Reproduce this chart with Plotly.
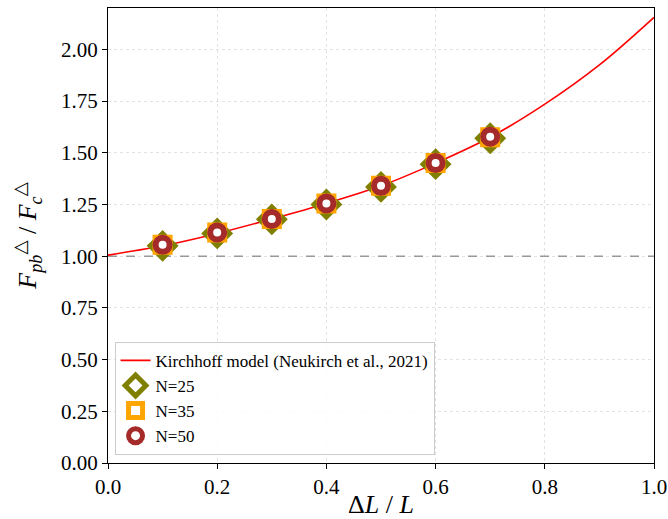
import plotly.graph_objects as go

# Kirchhoff model curve
model_x = [0.0, 0.1, 0.2, 0.3, 0.4, 0.5, 0.6, 0.7, 0.8, 0.9, 1.0]
model_y = [1.005, 1.05, 1.11, 1.18, 1.255, 1.34, 1.45, 1.575, 1.735, 1.925, 2.155]

# simulation points
strain = [0.1, 0.2, 0.3, 0.4, 0.5, 0.6, 0.7]
n25 = [1.050, 1.110, 1.178, 1.250, 1.335, 1.445, 1.570]
n35 = [1.055, 1.115, 1.180, 1.255, 1.340, 1.450, 1.575]
n50 = [1.055, 1.115, 1.180, 1.255, 1.340, 1.450, 1.578]

serif = "Liberation Serif, DejaVu Serif, serif"

fig = go.Figure()

# reference line at 1
fig.add_trace(go.Scatter(x=[0, 1], y=[1, 1], mode='lines',
                         line=dict(color='#999999', width=1.5, dash='dash'),
                         showlegend=False, hoverinfo='skip'))

fig.add_trace(go.Scatter(x=model_x, y=model_y, mode='lines', line_shape='spline',
                         line=dict(color='red', width=1.6),
                         name='Kirchhoff model (Neukirch et al., 2021)'))

fig.add_trace(go.Scatter(x=strain, y=n25, mode='markers', name='N=25',
                         marker=dict(symbol='diamond', size=18, color='white',
                                     line=dict(color='#808000', width=6))))
fig.add_trace(go.Scatter(x=strain, y=n35, mode='markers', name='N=35',
                         marker=dict(symbol='square', size=14, color='white',
                                     line=dict(color='#ffa500', width=6))))
fig.add_trace(go.Scatter(x=strain, y=n50, mode='markers', name='N=50',
                         marker=dict(symbol='circle', size=14, color='white',
                                     line=dict(color='#a52a2a', width=6))))

fig.update_layout(
    width=668, height=519,
    margin=dict(l=108, r=14, t=8, b=56),
    plot_bgcolor='white', paper_bgcolor='white',
    font=dict(family=serif, size=21, color='black'),
    legend=dict(x=0.012, y=0.018, xanchor='left', yanchor='bottom',
                bgcolor='rgba(255,255,255,0.85)', bordercolor='#cccccc', borderwidth=1,
                font=dict(family=serif, size=17), tracegroupgap=0),
)

fig.update_xaxes(range=[0, 1], tickvals=[0, 0.2, 0.4, 0.6, 0.8, 1.0],
                 ticktext=['0.0', '0.2', '0.4', '0.6', '0.8', '1.0'],
                 showline=True, linecolor='black', linewidth=1, mirror=True,
                 ticks='outside', ticklen=5, tickcolor='black',
                 showgrid=True, gridcolor='#e2e2e2', griddash='dot', gridwidth=1,
                 zeroline=False, automargin=False,
                 title=dict(text='Δ<i>L</i> / <i>L</i>', font=dict(size=26), standoff=0))

fig.update_yaxes(range=[0, 2.2], tickvals=[0, 0.25, 0.5, 0.75, 1.0, 1.25, 1.5, 1.75, 2.0],
                 tickformat='.2f',
                 showline=True, linecolor='black', linewidth=1, mirror=True,
                 ticks='outside', ticklen=5, tickcolor='black',
                 showgrid=True, gridcolor='#e2e2e2', griddash='dot', gridwidth=1,
                 zeroline=False, automargin=False,
                 title=dict(text='<i>F</i><sub><i>pb</i></sub><sup>△</sup> / <i>F</i><sub><i>c</i></sub><sup>△</sup>',
                            font=dict(size=26), standoff=16))

fig.write_html("out.html", config={'displayModeBar': False},
               post_script="document.body.style.margin='0';document.body.style.overflow='hidden';")
